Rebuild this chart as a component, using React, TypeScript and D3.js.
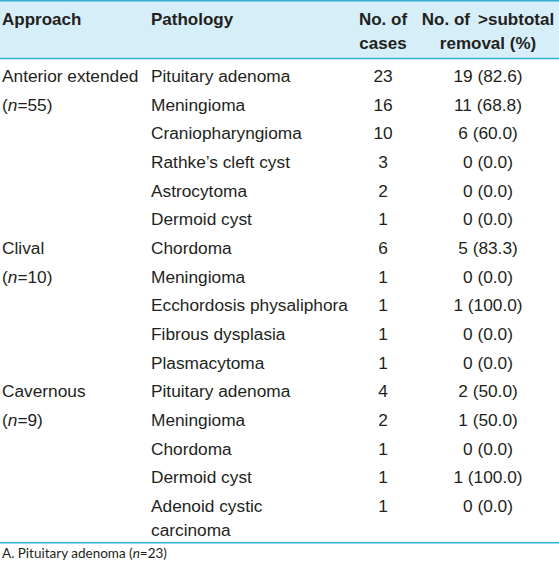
import React from "react";
import * as d3 from "d3";

const W = 559;
const H = 568;

const approaches = ["Anterior extended", "Clival", "Cavernous"];
const approachN = [55, 10, 9];
const groupOfRow = [0, 0, 0, 0, 0, 0, 1, 1, 1, 1, 1, 2, 2, 2, 2, 2];
const pathologies = [
  "Pituitary adenoma",
  "Meningioma",
  "Craniopharyngioma",
  "Rathke\u2019s cleft cyst",
  "Astrocytoma",
  "Dermoid cyst",
  "Chordoma",
  "Meningioma",
  "Ecchordosis physaliphora",
  "Fibrous dysplasia",
  "Plasmacytoma",
  "Pituitary adenoma",
  "Meningioma",
  "Chordoma",
  "Dermoid cyst",
  "Adenoid cystic\ncarcinoma",
];
const cases = [23, 16, 10, 3, 2, 1, 6, 1, 1, 1, 1, 4, 2, 1, 1, 1];
const removed = [19, 11, 6, 0, 0, 0, 5, 0, 1, 0, 0, 2, 1, 0, 1, 0];
const removedPct = ["82.6", "68.8", "60.0", "0.0", "0.0", "0.0", "83.3", "0.0", "100.0", "0.0", "0.0", "50.0", "50.0", "0.0", "100.0", "0.0"];
const headers = [["Approach"], ["Pathology"], ["No. of", "cases"], ["No. of \u2009>subtotal", "removal (%)"]];
const footnote = "A. Pituitary adenoma (";

const FONT = "'Liberation Sans', Arial, sans-serif";
const TEXT = "#231f20";
const CYAN = "#2fb2cf";
const HEADBG = "#d6eef8";

export default function App() {
  const y = d3.scaleLinear().domain([0, 1]).range([82, 110.67]);
  const colX = [2, 151, 383, 488];
  const inner = 24;
  const firstRowOfGroup = approaches.map((_, g) => groupOfRow.indexOf(g));
  return (
    <svg width={W} height={H} style={{ position: "absolute", left: 0, top: 0, background: "#fff" }}>
      <rect x={0} y={1} width={W} height={57} fill={HEADBG} />
      <line x1={0} x2={W} y1={0.75} y2={0.75} stroke={CYAN} strokeWidth={1.5} />
      <line x1={0} x2={W} y1={58.5} y2={58.5} stroke={CYAN} strokeWidth={1.5} />
      <g fontFamily={FONT} fontSize={17} fontWeight="bold" fill={TEXT}>
        {headers.map((h, i) =>
          h.map((t, j) => (
            <text key={i + "-" + j} x={colX[i]} y={25 + j * inner} textAnchor={i >= 2 ? "middle" : "start"}>
              {t}
            </text>
          ))
        )}
      </g>
      <g fontFamily={FONT} fontSize={17.3} fill={TEXT}>
        {approaches.map((a, g) => (
          <g key={"a" + g}>
            <text x={colX[0]} y={y(firstRowOfGroup[g])}>{a}</text>
            <text x={colX[0]} y={y(firstRowOfGroup[g] + 1)}>
              (<tspan fontStyle="italic">n</tspan>={approachN[g]})
            </text>
          </g>
        ))}
        {pathologies.map((p, i) => (
          <g key={"r" + i}>
            {p.split("\n").map((line, k) => (
              <text key={k} x={colX[1]} y={y(i) + k * inner}>{line}</text>
            ))}
            <text x={colX[2]} y={y(i)} textAnchor="middle">{cases[i]}</text>
            <text x={colX[3]} y={y(i)} textAnchor="middle">{`${removed[i]} (${removedPct[i]})`}</text>
          </g>
        ))}
      </g>
      <line x1={0} x2={W} y1={542.75} y2={542.75} stroke={CYAN} strokeWidth={1.5} />
      <text x={2} y={558} fontFamily="Lato, sans-serif" fontSize={13.5} fill={TEXT}>
        {footnote}
        <tspan fontStyle="italic">n</tspan>=23)
      </text>
    </svg>
  );
}
